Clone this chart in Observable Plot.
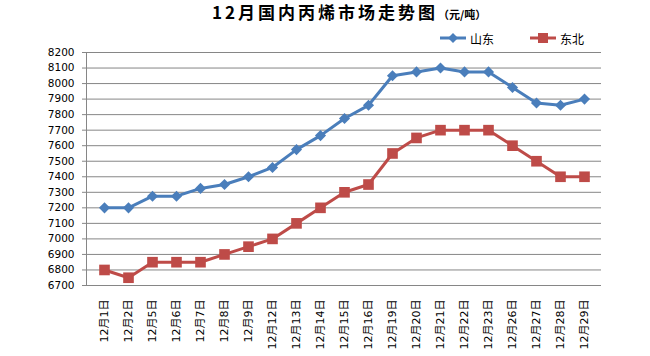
<!DOCTYPE html>
<html><head><meta charset="utf-8">
<script src="https://cdn.jsdelivr.net/npm/d3@7"></script>
<script src="https://cdn.jsdelivr.net/npm/@observablehq/plot@0.6"></script>
<style>
body{margin:0;background:#fff;width:650px;height:356px;overflow:hidden;font-family:"DejaVu Sans","Noto Sans CJK SC",sans-serif;color:#000;}
#head{position:relative;height:46px;}
#title{position:absolute;left:212px;top:1px;font-weight:bold;font-size:17px;letter-spacing:3px;white-space:nowrap;font-family:"Noto Sans CJK SC",sans-serif;line-height:22px;}
#title small{font-size:11px;letter-spacing:0;}
.leg{position:absolute;top:31px;height:14px;display:flex;align-items:center;font-size:12px;font-family:"Noto Sans CJK SC",sans-serif;}
.leg svg{margin-right:4px;}
</style></head>
<body>
<div id="head">
  <div id="title">12月国内丙烯市场走势图<small>（元/吨）</small></div>
  <div class="leg" id="leg1" style="left:440px"></div>
  <div class="leg" id="leg2" style="left:530px"></div>
</div>
<div id="chart"></div>
<script>
const dates = ["12月1日","12月2日","12月5日","12月6日","12月7日","12月8日","12月9日","12月12日","12月13日","12月14日","12月15日","12月16日","12月19日","12月20日","12月21日","12月22日","12月23日","12月26日","12月27日","12月28日","12月29日"];
const shandong = [7200,7200,7275,7275,7325,7350,7400,7460,7575,7665,7775,7860,8050,8075,8100,8075,8075,7975,7875,7860,7900];
const dongbei = [6800,6750,6850,6850,6850,6900,6950,7000,7100,7200,7300,7350,7550,7650,7700,7700,7700,7600,7500,7400,7400];
const yTicks = [6700,6800,6900,7000,7100,7200,7300,7400,7500,7600,7700,7800,7900,8000,8100,8200];
const seriesNames = ["山东","东北"];
const colors = ["#4A7EBB","#BE4B48"];

const rows = dates.map((d,i)=>({date:d, sd:shandong[i], db:dongbei[i]}));

const chart = Plot.plot({
  width:650, height:310,
  marginTop:6, marginBottom:71, marginLeft:86, marginRight:49,
  style:{fontFamily:'"DejaVu Sans","Noto Sans CJK SC",sans-serif', fontSize:"10px", color:"#000", background:"#fff"},
  x:{type:"point", domain:dates, padding:0.5, axis:null},
  y:{domain:[6700,8200], axis:null},
  marks:[
    Plot.gridY(yTicks,{stroke:"#868686", strokeOpacity:1, strokeWidth:1}),
    Plot.frame({anchor:"left", stroke:"#868686"}),
    Plot.axisY(yTicks,{tickSize:4, tickPadding:8, stroke:"#868686", fill:"#000", fontSize:10.5, label:null, tickFormat:d=>String(d)}),
    Plot.axisX({tickRotate:-90, tickSize:0, tickPadding:14, fill:"#000", fontSize:11, label:null}),
    Plot.line(rows,{x:"date", y:"sd", stroke:colors[0], strokeWidth:3}),
    Plot.dot(rows,{x:"date", y:"sd", symbol:"diamond2", r:5, fill:colors[0], stroke:null}),
    Plot.line(rows,{x:"date", y:"db", stroke:colors[1], strokeWidth:3}),
    Plot.dot(rows,{x:"date", y:"db", symbol:"square", r:6, fill:colors[1], stroke:null})
  ]
});
document.getElementById("chart").appendChild(chart);

function legendSwatch(el, name, color, shape){
  const svg = d3.create("svg").attr("width",26).attr("height",12);
  svg.append("line").attr("x1",0).attr("x2",26).attr("y1",6).attr("y2",6).attr("stroke",color).attr("stroke-width",3);
  if(shape==="diamond") svg.append("path").attr("d","M13,1L18,6L13,11L8,6Z").attr("fill",color);
  else svg.append("rect").attr("x",8).attr("y",1).attr("width",10).attr("height",10).attr("fill",color);
  el.appendChild(svg.node());
  const t=document.createElement("span"); t.textContent=name; el.appendChild(t);
}
legendSwatch(document.getElementById("leg1"), seriesNames[0], colors[0], "diamond");
legendSwatch(document.getElementById("leg2"), seriesNames[1], colors[1], "square");
</script>
</body></html>
